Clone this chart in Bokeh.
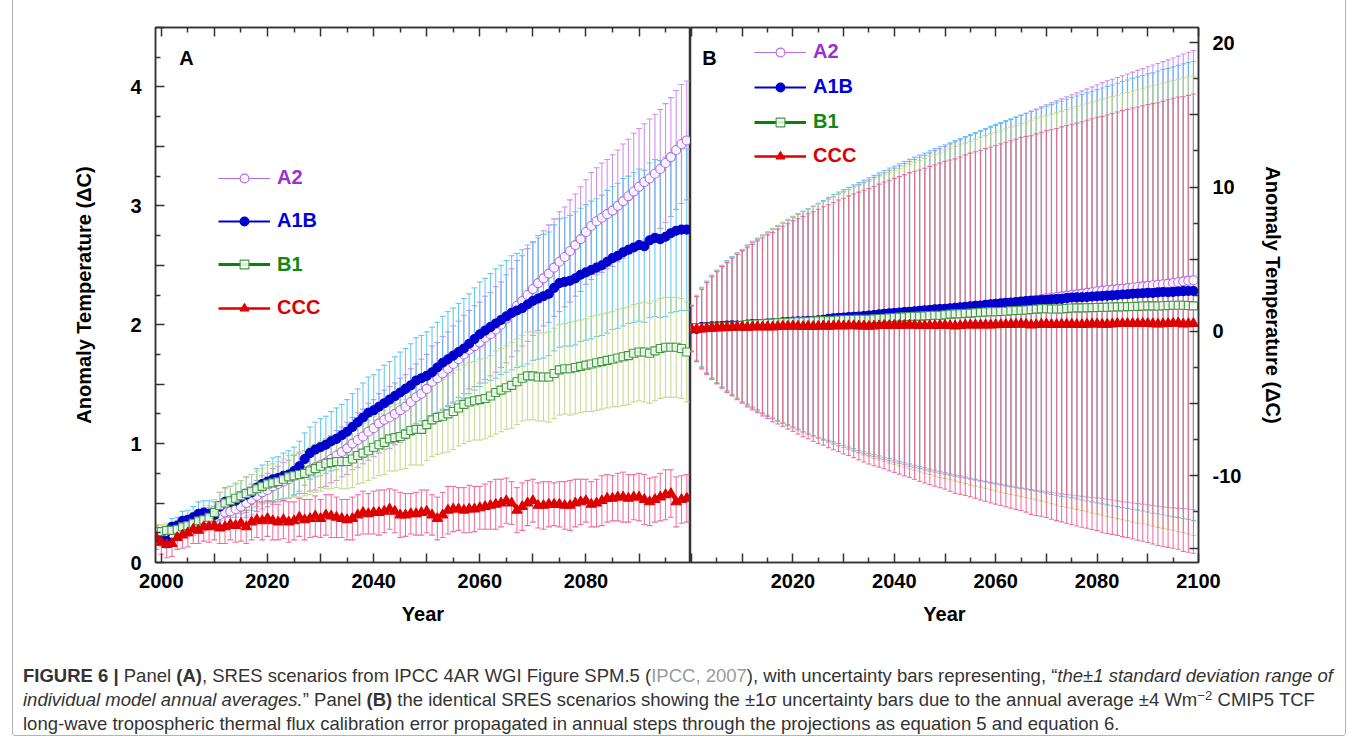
from bokeh.plotting import figure
from bokeh.models import (ColumnDataSource, Whisker, TeeHead, FixedTicker, LinearAxis,
                          Legend, LegendItem, Label, Div, Range1d)
from bokeh.layouts import row, column
from bokeh.embed import file_html
from bokeh.resources import INLINE

# ---------------- data ----------------
years = list(range(1999, 2100))

a2 = [0.22, 0.20, 0.21, 0.24, 0.26, 0.28, 0.29, 0.31, 0.33, 0.35,
      0.37, 0.38, 0.40, 0.42, 0.43, 0.45, 0.47, 0.50, 0.53, 0.56,
      0.59, 0.61, 0.64, 0.66, 0.68, 0.70, 0.73, 0.75, 0.76, 0.78,
      0.80, 0.82, 0.84, 0.87, 0.90, 0.93, 0.96, 1.00, 1.03, 1.06,
      1.10, 1.13, 1.17, 1.20, 1.22, 1.25, 1.28, 1.31, 1.35, 1.39,
      1.42, 1.46, 1.52, 1.55, 1.59, 1.63, 1.67, 1.71, 1.75, 1.79,
      1.82, 1.85, 1.89, 1.92, 1.96, 2.00, 2.05, 2.10, 2.16, 2.20,
      2.25, 2.30, 2.35, 2.39, 2.43, 2.48, 2.53, 2.57, 2.62, 2.67,
      2.72, 2.78, 2.83, 2.87, 2.90, 2.93, 2.96, 3.00, 3.04, 3.08,
      3.12, 3.16, 3.20, 3.23, 3.27, 3.31, 3.36, 3.41, 3.47, 3.52,
      3.55]

a1b = [0.21, 0.20, 0.18, 0.30, 0.31, 0.35, 0.36, 0.38, 0.41, 0.42,
       0.41, 0.40, 0.47, 0.51, 0.51, 0.52, 0.55, 0.57, 0.59, 0.63,
       0.66, 0.68, 0.70, 0.71, 0.73, 0.74, 0.77, 0.81, 0.87, 0.92,
       0.95, 0.97, 0.99, 1.02, 1.04, 1.07, 1.10, 1.14, 1.18, 1.22,
       1.26, 1.28, 1.31, 1.34, 1.37, 1.40, 1.43, 1.46, 1.49, 1.53,
       1.55, 1.57, 1.60, 1.64, 1.68, 1.71, 1.74, 1.77, 1.80, 1.84,
       1.88, 1.92, 1.95, 1.98, 2.01, 2.04, 2.07, 2.10, 2.12, 2.14,
       2.17, 2.20, 2.22, 2.24, 2.26, 2.31, 2.35, 2.36, 2.37, 2.39,
       2.42, 2.44, 2.46, 2.48, 2.50, 2.53, 2.56, 2.58, 2.61, 2.63,
       2.65, 2.67, 2.66, 2.71, 2.73, 2.72, 2.74, 2.77, 2.79, 2.80,
       2.80]

b1 = [0.26, 0.26, 0.27, 0.27, 0.28, 0.30, 0.31, 0.33, 0.35, 0.36,
      0.38, 0.42, 0.48, 0.50, 0.52, 0.54, 0.56, 0.58, 0.60, 0.62,
      0.64, 0.66, 0.67, 0.68, 0.70, 0.72, 0.73, 0.74, 0.75, 0.77,
      0.79, 0.81, 0.83, 0.84, 0.85, 0.85, 0.85, 0.87, 0.90, 0.92,
      0.94, 0.97, 0.99, 1.01, 1.04, 1.05, 1.06, 1.08, 1.11, 1.12,
      1.12, 1.16, 1.20, 1.22, 1.23, 1.25, 1.27, 1.30, 1.33, 1.35,
      1.36, 1.37, 1.38, 1.40, 1.43, 1.45, 1.47, 1.49, 1.52, 1.55,
      1.57, 1.57, 1.56, 1.56, 1.56, 1.59, 1.62, 1.63, 1.63, 1.64,
      1.65, 1.66, 1.67, 1.68, 1.69, 1.70, 1.71, 1.72, 1.73, 1.74,
      1.76, 1.77, 1.77, 1.76, 1.78, 1.80, 1.81, 1.81, 1.81, 1.80,
      1.77]

ccc = [0.21, 0.17, 0.15, 0.16, 0.21, 0.23, 0.25, 0.28, 0.27, 0.30,
       0.30, 0.31, 0.29, 0.30, 0.32, 0.31, 0.33, 0.30, 0.34, 0.36,
       0.35, 0.37, 0.35, 0.34, 0.36, 0.34, 0.35, 0.38, 0.36, 0.37,
       0.39, 0.37, 0.40, 0.39, 0.38, 0.37, 0.36, 0.37, 0.40, 0.42,
       0.41, 0.42, 0.42, 0.43, 0.45, 0.43, 0.40, 0.40, 0.41, 0.41,
       0.42, 0.43, 0.40, 0.37, 0.40, 0.44, 0.45, 0.45, 0.44, 0.45,
       0.45, 0.46, 0.47, 0.48, 0.49, 0.50, 0.52, 0.50, 0.44, 0.47,
       0.50, 0.52, 0.48, 0.48, 0.49, 0.49, 0.49, 0.48, 0.48, 0.50,
       0.51, 0.52, 0.49, 0.50, 0.52, 0.54, 0.54, 0.55, 0.55, 0.54,
       0.55, 0.55, 0.53, 0.51, 0.53, 0.55, 0.57, 0.58, 0.51, 0.53,
       0.54]

# panel A: +/-1 SD of individual model annual averages
a2_sd = [0.05, 0.05, 0.06, 0.06, 0.06, 0.07, 0.07, 0.08, 0.08, 0.08,
         0.09, 0.09, 0.10, 0.10, 0.11, 0.11, 0.12, 0.12, 0.13, 0.13,
         0.14, 0.14, 0.15, 0.15, 0.16, 0.16, 0.17, 0.17, 0.18, 0.18,
         0.19, 0.19, 0.20, 0.20, 0.21, 0.21, 0.22, 0.22, 0.23, 0.23,
         0.24, 0.24, 0.25, 0.25, 0.26, 0.26, 0.27, 0.27, 0.28, 0.28,
         0.29, 0.29, 0.30, 0.30, 0.31, 0.31, 0.32, 0.32, 0.33, 0.33,
         0.34, 0.34, 0.35, 0.35, 0.36, 0.36, 0.37, 0.37, 0.38, 0.38,
         0.39, 0.39, 0.40, 0.40, 0.41, 0.41, 0.42, 0.42, 0.43, 0.43,
         0.44, 0.44, 0.45, 0.45, 0.46, 0.46, 0.47, 0.47, 0.48, 0.48,
         0.49, 0.49, 0.49, 0.50, 0.50, 0.50, 0.50, 0.50, 0.50, 0.50,
         0.50]

a1b_sd = [0.05, 0.06, 0.06, 0.07, 0.07, 0.08, 0.08, 0.09, 0.10, 0.10,
          0.11, 0.11, 0.12, 0.12, 0.13, 0.14, 0.14, 0.15, 0.15, 0.16,
          0.16, 0.17, 0.18, 0.18, 0.19, 0.20, 0.20, 0.21, 0.22, 0.22,
          0.23, 0.24, 0.24, 0.25, 0.26, 0.26, 0.27, 0.28, 0.28, 0.29,
          0.30, 0.30, 0.31, 0.32, 0.32, 0.33, 0.34, 0.34, 0.35, 0.36,
          0.36, 0.37, 0.38, 0.38, 0.39, 0.40, 0.40, 0.41, 0.42, 0.42,
          0.43, 0.44, 0.44, 0.45, 0.46, 0.46, 0.47, 0.48, 0.48, 0.49,
          0.50, 0.50, 0.51, 0.52, 0.52, 0.53, 0.54, 0.54, 0.55, 0.56,
          0.56, 0.57, 0.58, 0.58, 0.59, 0.60, 0.60, 0.61, 0.62, 0.62,
          0.63, 0.64, 0.64, 0.65, 0.66, 0.66, 0.67, 0.67, 0.68, 0.68,
          0.68]

b1_sd = [0.06, 0.06, 0.06, 0.07, 0.07, 0.08, 0.08, 0.09, 0.09, 0.10,
         0.10, 0.11, 0.11, 0.12, 0.12, 0.13, 0.13, 0.14, 0.14, 0.15,
         0.15, 0.16, 0.16, 0.17, 0.17, 0.18, 0.18, 0.19, 0.19, 0.20,
         0.20, 0.21, 0.21, 0.22, 0.22, 0.23, 0.23, 0.24, 0.24, 0.25,
         0.25, 0.26, 0.26, 0.27, 0.27, 0.28, 0.28, 0.29, 0.29, 0.30,
         0.30, 0.30, 0.31, 0.31, 0.31, 0.32, 0.32, 0.32, 0.33, 0.33,
         0.33, 0.34, 0.34, 0.34, 0.35, 0.35, 0.35, 0.36, 0.36, 0.36,
         0.37, 0.37, 0.37, 0.37, 0.38, 0.38, 0.38, 0.38, 0.39, 0.39,
         0.39, 0.39, 0.40, 0.40, 0.40, 0.40, 0.40, 0.41, 0.41, 0.41,
         0.41, 0.41, 0.42, 0.42, 0.42, 0.42, 0.42, 0.42, 0.42, 0.42,
         0.42]

ccc_sd = [0.10, 0.10, 0.11, 0.11, 0.10, 0.11, 0.12, 0.12, 0.11, 0.12,
          0.13, 0.12, 0.13, 0.14, 0.13, 0.14, 0.15, 0.14, 0.15, 0.15,
          0.16, 0.15, 0.16, 0.15, 0.16, 0.17, 0.16, 0.16, 0.17, 0.16,
          0.17, 0.16, 0.17, 0.18, 0.17, 0.16, 0.17, 0.18, 0.17, 0.18,
          0.17, 0.18, 0.19, 0.18, 0.17, 0.18, 0.19, 0.18, 0.17, 0.18,
          0.19, 0.18, 0.17, 0.18, 0.19, 0.20, 0.19, 0.18, 0.19, 0.20,
          0.19, 0.18, 0.19, 0.20, 0.21, 0.20, 0.19, 0.18, 0.19, 0.20,
          0.19, 0.18, 0.19, 0.20, 0.19, 0.18, 0.19, 0.20, 0.21, 0.20,
          0.19, 0.18, 0.19, 0.20, 0.21, 0.20, 0.19, 0.20, 0.21, 0.20,
          0.19, 0.20, 0.21, 0.20, 0.19, 0.20, 0.21, 0.20, 0.21, 0.20,
          0.20]

# panel B: propagated +/-1 sigma TCF calibration uncertainty (same for all scenarios)
tcf_sd = [0.00, 1.59, 2.25, 2.75, 3.18, 3.56, 3.89, 4.21, 4.50, 4.77,
          5.03, 5.27, 5.51, 5.73, 5.95, 6.16, 6.36, 6.56, 6.75, 6.93,
          7.11, 7.29, 7.46, 7.63, 7.79, 7.95, 8.11, 8.26, 8.41, 8.56,
          8.71, 8.85, 8.99, 9.13, 9.27, 9.41, 9.54, 9.67, 9.80, 9.93,
          10.06, 10.18, 10.30, 10.43, 10.55, 10.67, 10.78, 10.90, 11.02, 11.13,
          11.24, 11.35, 11.47, 11.58, 11.68, 11.79, 11.90, 12.00, 12.11, 12.21,
          12.32, 12.42, 12.52, 12.62, 12.72, 12.82, 12.92, 13.01, 13.11, 13.21,
          13.30, 13.40, 13.49, 13.58, 13.68, 13.77, 13.86, 13.95, 14.04, 14.13,
          14.22, 14.31, 14.40, 14.49, 14.57, 14.66, 14.75, 14.83, 14.92, 15.00,
          15.08, 15.17, 15.25, 15.33, 15.42, 15.50, 15.58, 15.66, 15.74, 15.82,
          15.90]

series_names = ["A2", "A1B", "B1", "CCC"]
a_ticks_y = [0, 0.5, 1, 1.5, 2, 2.5, 3, 3.5, 4, 4.5]
a_labels_y = ["0", "", "1", "", "2", "", "3", "", "4", ""]
b_ticks_y = [-15, -10, -5, 0, 5, 10, 15, 20]
b_labels_y = ["", "-10", "", "0", "", "10", "", "20"]
a_ticks_x = [2000, 2010, 2020, 2030, 2040, 2050, 2060, 2070, 2080, 2090]
a_labels_x = ["2000", "", "2020", "", "2040", "", "2060", "", "2080", ""]
b_ticks_x = [2000, 2010, 2020, 2030, 2040, 2050, 2060, 2070, 2080, 2090, 2100]
b_labels_x = ["", "", "2020", "", "2040", "", "2060", "", "2080", "", "2100"]

# ---------------- styles ----------------
FONT = "Liberation Sans"
AXC = "#333333"
style = {
    "A2":  dict(marker="circle", size=9, fill="white", line="#b46be6", path="#b46be6", lw=1.2,
                err="#c77fe9", text="#9b30d0"),
    "A1B": dict(marker="circle", size=9, fill="#0000cc", line="#0000cc", path="#0000cc", lw=2,
                err="#4fc0ee", text="#0000dd"),
    "B1":  dict(marker="square", size=8, fill="white", line="#3c9c3c", path="#0a820a", lw=3,
                err="#bcd67c", text="#118811"),
    "CCC": dict(marker="triangle", size=10, fill="#dd0000", line="#dd0000", path="#dd0000", lw=2.5,
                err="#ee5a90", text="#dd0000"),
}
centers = {"A2": a2, "A1B": a1b, "B1": b1, "CCC": ccc}
sd_a = {"A2": a2_sd, "A1B": a1b_sd, "B1": b1_sd, "CCC": ccc_sd}


def style_axis(ax, ticks, labels, minor, label_size="20px"):
    ax.ticker = FixedTicker(ticks=ticks, minor_ticks=minor)
    ax.major_label_overrides = {t: l for t, l in zip(ticks, labels)}
    ax.major_tick_in = 9
    ax.major_tick_out = 0
    ax.minor_tick_in = 5
    ax.minor_tick_out = 0
    ax.axis_line_color = AXC
    ax.axis_line_width = 1.5
    ax.major_tick_line_color = AXC
    ax.major_tick_line_width = 1.5
    ax.minor_tick_line_color = AXC
    ax.minor_tick_line_width = 1.5
    ax.major_label_text_font = FONT
    ax.major_label_text_font_style = "bold"
    ax.major_label_text_font_size = label_size
    ax.major_label_text_color = "black"
    ax.axis_label_text_font = FONT
    ax.axis_label_text_font_style = "bold"
    ax.axis_label_text_font_size = "20px"
    ax.axis_label_text_color = "black"


def blank_axis(ax, ticks, minor):
    style_axis(ax, ticks, [""] * len(ticks), minor, label_size="0px")
    ax.major_label_standoff = 0


def make_panel(p, yrs, sd_map, cap, legend_pos, gaps):
    sources = {}
    for name in series_names:
        st = style[name]
        c = centers[name][-len(yrs):]
        sd = (sd_map[name] if isinstance(sd_map, dict) else sd_map)[-len(yrs):]
        src = ColumnDataSource(dict(
            x=yrs,
            y=c,
            lo=[v - s for v, s in zip(c, sd)],
            hi=[v + s for v, s in zip(c, sd)],
        ))
        kw = dict(line_color=st["err"], line_width=1.1, line_alpha=0.85)
        w = Whisker(source=src, base="x", lower="lo", upper="hi",
                    upper_head=TeeHead(size=cap, **kw), lower_head=TeeHead(size=cap, **kw), **kw)
        p.add_layout(w)
        sources[name] = src
    out = {}
    for name in series_names:
        st = style[name]
        src = sources[name]
        lr = p.line("x", "y", source=src, line_color=st["path"], line_width=st["lw"])
        sr = p.scatter("x", "y", source=src, marker=st["marker"], size=st["size"],
                       fill_color=st["fill"], line_color=st["line"], line_width=1.1,
                       fill_alpha=0.85 if st["fill"] == "white" else 1.0)
        out[name] = (lr, sr)
    lx, ly = legend_pos
    for i, name in enumerate(series_names):
        st = style[name]
        ly -= gaps[i]
        leg = Legend(items=[LegendItem(label=name, renderers=list(out[name]))],
                     location=(lx, ly),
                     glyph_width=52, glyph_height=22, label_height=22, label_width=30,
                     label_standoff=7, padding=0, margin=0, spacing=0,
                     border_line_alpha=0, background_fill_alpha=0,
                     label_text_font=FONT, label_text_font_style="bold",
                     label_text_font_size="20px", label_text_color=st["text"])
        p.add_layout(leg)


# ---------------- panel A ----------------
pA = figure(frame_width=535, frame_height=535, min_border_left=155, min_border_right=0,
            min_border_top=27, min_border_bottom=79,
            x_range=Range1d(1998.9, 2099.7), y_range=Range1d(0, 4.5),
            output_backend="svg", toolbar_location=None,
            background_fill_color="white", border_fill_color="white")
pA.grid.visible = False
pA.outline_line_color = AXC
pA.outline_line_width = 1.5
style_axis(pA.xaxis[0], a_ticks_x, a_labels_x, [2005 + 10 * k for k in range(10)])
pA.xaxis[0].axis_label = "Year"
pA.xaxis[0].major_label_standoff = 11
pA.xaxis[0].axis_label_standoff = 12
style_axis(pA.yaxis[0], a_ticks_y, a_labels_y, [0.25 + 0.5 * k for k in range(9)])
pA.yaxis[0].axis_label = "Anomaly Temperature (\u0394C)"
pA.yaxis[0].major_label_standoff = 14
pA.yaxis[0].axis_label_standoff = 32
topA = LinearAxis()
blank_axis(topA, a_ticks_x, [2005 + 10 * k for k in range(10)])
pA.add_layout(topA, "above")

make_panel(pA, years, sd_a, 6, (63, 373), [0, 43, 43.5, 43.7])
pA.add_layout(Label(x=31, y=505, x_units="screen", y_units="screen", text="A",
                    text_font=FONT, text_font_style="bold", text_font_size="20px",
                    text_align="center", text_baseline="middle", text_color="black"))

# ---------------- panel B ----------------
pB = figure(frame_width=508, frame_height=535, min_border_left=0, min_border_right=160,
            min_border_top=27, min_border_bottom=79,
            x_range=Range1d(1999.8, 2100), y_range=Range1d(-16, 21.05),
            y_axis_location="right",
            output_backend="svg", toolbar_location=None,
            background_fill_color="white", border_fill_color="white")
pB.grid.visible = False
pB.outline_line_color = AXC
pB.outline_line_width = 1.5
style_axis(pB.xaxis[0], b_ticks_x, b_labels_x, [2005 + 10 * k for k in range(10)])
pB.xaxis[0].axis_label = "Year"
pB.xaxis[0].major_label_standoff = 11
pB.xaxis[0].axis_label_standoff = 12
style_axis(pB.yaxis[0], b_ticks_y, b_labels_y, [-12.5 + 5 * k for k in range(7)])
pB.yaxis[0].axis_label = "Anomaly Temperature (\u0394C)"
pB.yaxis[0].major_label_standoff = 14
pB.yaxis[0].axis_label_standoff = 18
topB = LinearAxis()
blank_axis(topB, b_ticks_x, [2005 + 10 * k for k in range(10)])
pB.add_layout(topB, "above")

make_panel(pB, years[1:], tcf_sd, 5, (64, 499), [0, 35, 35, 34])
pB.add_layout(Label(x=19, y=505, x_units="screen", y_units="screen", text="B",
                    text_font=FONT, text_font_style="bold", text_font_size="20px",
                    text_align="center", text_baseline="middle", text_color="black"))

# ---------------- caption (with the figure's thin outer frame) ----------------
sup = '<span style="position:relative; top:-0.45em; font-size:0.72em; line-height:0;">\u22122</span>'
frame = ('<div style="position:fixed; left:12px; top:-6px; width:1334px; height:742px; '
         'border:1px solid #b4b4b4; border-radius:3px; pointer-events:none;"></div>')
caption = (
    frame +
    '<div style="font-family: \'Liberation Sans\', sans-serif; font-size:18.5px; '
    'line-height:24px; color:#333; padding:18px 0 0 18px; white-space:nowrap;">'
    '<b>FIGURE 6 |</b> Panel <b>(A)</b>, SRES scenarios from IPCC 4AR WGI Figure SPM.5 '
    '(<span style="color:#9a9a9a">IPCC, 2007</span>), with uncertainty bars representing, '
    '\u201c<i>the\u00b11 standard deviation range of</i><br>'
    '<i>individual model annual averages.</i>\u201d Panel <b>(B)</b> the identical SRES scenarios '
    'showing the \u00b11\u03c3 uncertainty bars due to the annual average \u00b14 Wm' + sup + ' CMIP5 TCF<br>'
    'long-wave tropospheric thermal flux calibration error propagated in annual steps through '
    'the projections as equation 5 and equation 6.'
    '</div>'
)
cap = Div(text=caption, width=1358, height=106)

layout = column(row(pA, pB, spacing=0), cap, spacing=0)
open("out.html", "w").write(file_html(layout, INLINE))
